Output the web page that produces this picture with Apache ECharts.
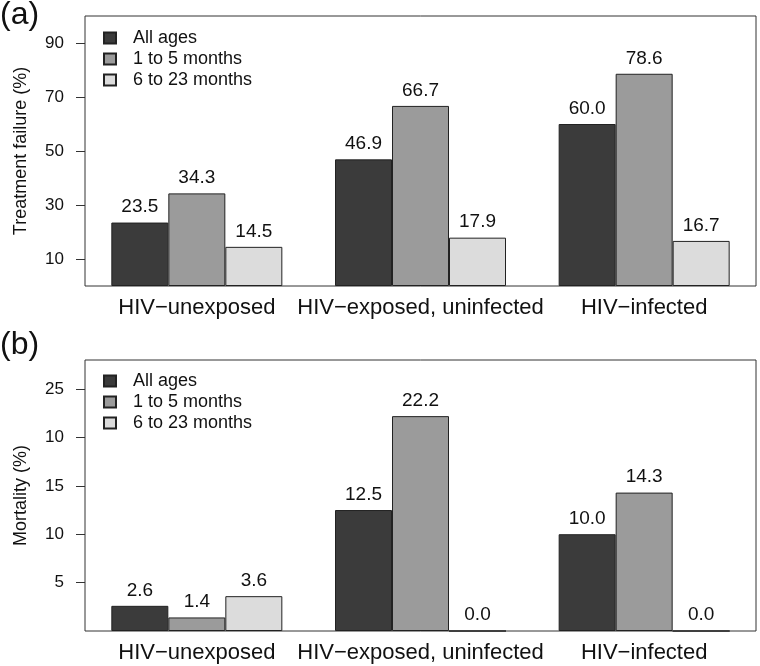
<!DOCTYPE html>
<html>
<head>
<meta charset="utf-8">
<script src="https://cdn.jsdelivr.net/npm/echarts@6/dist/echarts.min.js"></script>
<style>
html,body{margin:0;padding:0;background:#fff;}
#chart{width:760px;height:666px;}
</style>
</head>
<body>
<div id="chart"></div>
<script>
const categories = ['HIV\u2212unexposed', 'HIV\u2212exposed, uninfected', 'HIV\u2212infected'];
const seriesNames = ['All ages', '1 to 5 months', '6 to 23 months'];

const failureAll = [23.5, 46.9, 60.0];
const failure1to5 = [34.3, 66.7, 78.6];
const failure6to23 = [14.5, 17.9, 16.7];

const mortalityAll = [2.6, 12.5, 10.0];
const mortality1to5 = [1.4, 22.2, 14.3];
const mortality6to23 = [3.6, 0.0, 0.0];

const failureTickValues = [10, 30, 50, 70, 90];
const failureTickLabels = ['10', '30', '50', '70', '90'];
const mortalityTickValues = [5, 10, 15, 20, 25];
const mortalityTickLabels = ['5', '10', '15', '10', '25'];

const colors = ['#3b3b3b', '#9b9b9b', '#dcdcdc'];
const FONT = 'Liberation Sans, Arial, Helvetica, sans-serif';

const chart = echarts.init(document.getElementById('chart'), null, {renderer: 'canvas'});

function barSeries(name, data, gi, ci) {
  return {
    name: name,
    type: 'bar',
    xAxisIndex: gi,
    yAxisIndex: gi,
    data: data,
    barWidth: 57,
    barGap: '0%',
    itemStyle: {color: colors[ci], borderColor: '#222', borderWidth: 1},
    label: {
      show: true,
      position: 'top',
      distance: 6,
      color: '#111',
      fontFamily: FONT,
      fontSize: 19,
      formatter: p => Number(p.value).toFixed(1)
    },
    emphasis: {disabled: true},
    animation: false
  };
}

function yAxis(gi, max, name, tickValues, tickLabels) {
  return {
    type: 'value',
    gridIndex: gi,
    min: 0,
    max: max,
    name: name,
    nameLocation: 'middle',
    nameGap: 55,
    nameTextStyle: {fontFamily: FONT, fontSize: 18, color: '#111'},
    axisLine: {show: false},
    splitLine: {show: false},
    axisTick: {show: true, length: 9, customValues: tickValues, lineStyle: {color: '#333', width: 1}},
    axisLabel: {
      customValues: tickValues,
      margin: 21,
      fontFamily: FONT,
      fontSize: 17,
      color: '#111',
      formatter: v => tickLabels[tickValues.indexOf(v)]
    }
  };
}

function xAxis(gi) {
  return {
    type: 'category',
    gridIndex: gi,
    data: categories,
    axisLine: {show: false},
    axisTick: {show: false},
    axisLabel: {margin: 11, fontFamily: FONT, fontSize: 22, color: '#111', interval: 0}
  };
}

function legend(top) {
  return {
    data: seriesNames,
    orient: 'vertical',
    left: 98,
    top: top,
    icon: 'rect',
    itemWidth: 12,
    itemHeight: 11,
    itemGap: 3,
    selectedMode: false,
    textStyle: {fontFamily: FONT, fontSize: 18, color: '#111', padding: [0, 0, 0, 12]}
  };
}

const option = {
  backgroundColor: '#fff',
  animation: false,
  title: [
    {text: '(a)', left: 0, top: -1, padding: 0, textStyle: {fontFamily: FONT, fontSize: 32, fontWeight: 'normal', color: '#111'}},
    {text: '(b)', left: 0, top: 329, padding: 0, textStyle: {fontFamily: FONT, fontSize: 32, fontWeight: 'normal', color: '#111'}}
  ],
  legend: [legend(24), legend(367)],
  grid: [
    {left: 85, right: 4, top: 16, height: 270, show: true, borderColor: '#333', borderWidth: 1, backgroundColor: 'transparent'},
    {left: 85, right: 4, top: 360, height: 271, show: true, borderColor: '#333', borderWidth: 1, backgroundColor: 'transparent'}
  ],
  xAxis: [xAxis(0), xAxis(1)],
  yAxis: [
    yAxis(0, 100, 'Treatment failure (%)', failureTickValues, failureTickLabels),
    yAxis(1, 28, 'Mortality (%)', mortalityTickValues, mortalityTickLabels)
  ],
  series: [
    barSeries(seriesNames[0], failureAll, 0, 0),
    barSeries(seriesNames[1], failure1to5, 0, 1),
    barSeries(seriesNames[2], failure6to23, 0, 2),
    barSeries(seriesNames[0], mortalityAll, 1, 0),
    barSeries(seriesNames[1], mortality1to5, 1, 1),
    barSeries(seriesNames[2], mortality6to23, 1, 2)
  ]
};
chart.setOption(option);
</script>
</body>
</html>
